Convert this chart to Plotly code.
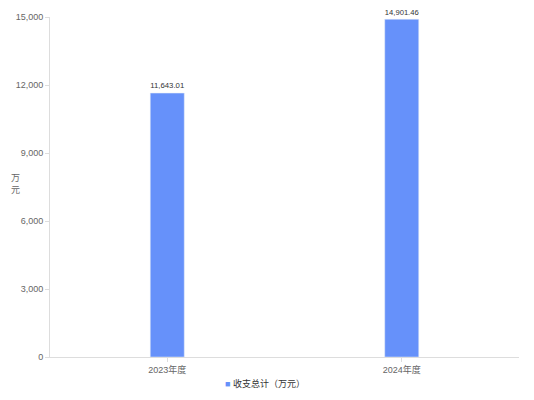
import plotly.graph_objects as go

# data
years = ["2023年度", "2024年度"]
totals = [11643.01, 14901.46]
y_ticks = [0, 3000, 6000, 9000, 12000, 15000]
series_name = "收支总计（万元）"
bar_color = "#6691FA"

fig = go.Figure()
fig.add_trace(go.Bar(
    x=years, y=totals, name=series_name,
    marker=dict(color=bar_color),
    width=0.145,
    text=[f"{v:,.2f}" for v in totals],
    textposition="outside",
    textfont=dict(size=9, color="#333333"),
    cliponaxis=False,
    showlegend=False,
))

# the page body adds an 8px offset, so margins are shifted to compensate
fig.update_layout(
    width=534, height=400,
    margin=dict(l=42, r=23, t=9, b=51, autoexpand=False),
    plot_bgcolor="white", paper_bgcolor="white",
    font=dict(family="Liberation Sans, Noto Sans CJK SC, sans-serif", size=9, color="#666666"),
    annotations=[
        # y axis unit, written vertically
        dict(text="万<br>元", xref="paper", yref="paper", x=-0.088, y=0.51,
             xanchor="left", yanchor="middle", showarrow=False,
             font=dict(size=9, color="#666666")),
        # legend drawn as text with a coloured square
        dict(text=f"<span style='color:{bar_color}'>■</span> {series_name}",
             xref="paper", yref="paper", x=0.458, y=-0.079,
             xanchor="center", yanchor="middle", showarrow=False,
             font=dict(size=9, color="#333333")),
    ],
)

fig.update_xaxes(showline=True, linecolor="#DDDDDD", linewidth=1,
                 ticks="outside", ticklen=4, tickcolor="#DDDDDD",
                 tickfont=dict(size=9, color="#666666"))
fig.update_yaxes(range=[0, 15000], tickvals=y_ticks, tickformat=",",
                 showgrid=False, zeroline=False,
                 showline=True, linecolor="#DDDDDD", linewidth=1,
                 ticks="outside", ticklen=4, tickcolor="#DDDDDD",
                 tickfont=dict(size=9, color="#666666"))

fig.write_html("out.html")
